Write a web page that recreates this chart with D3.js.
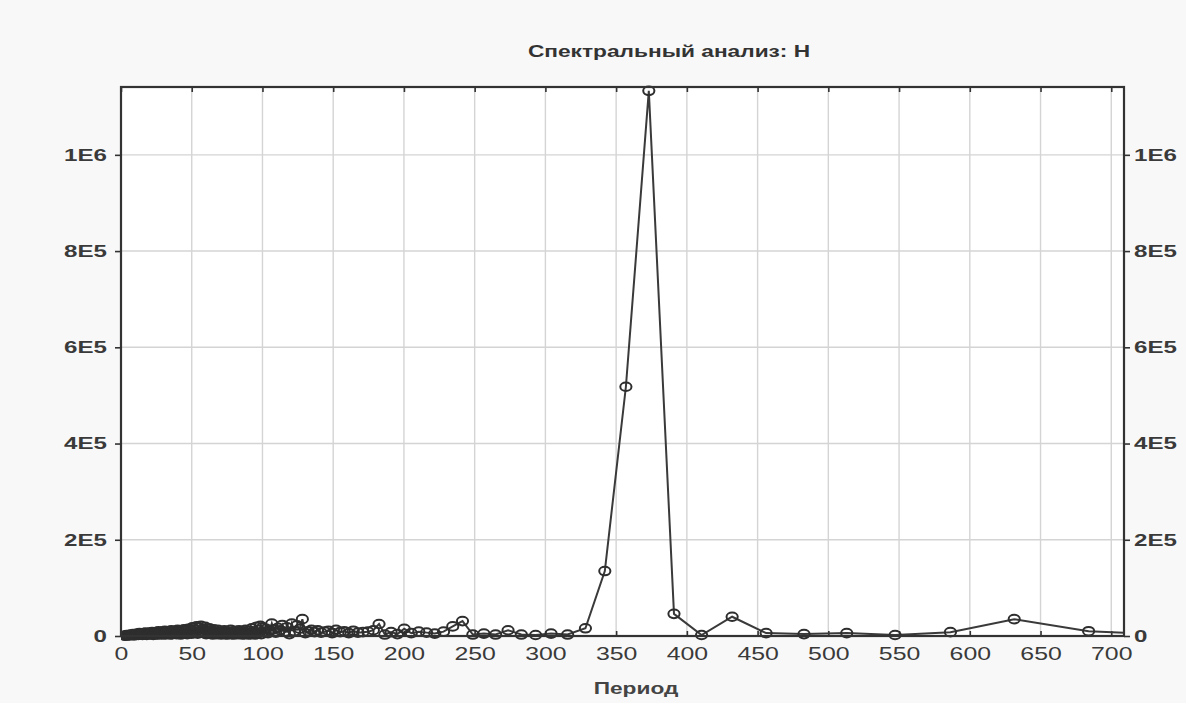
<!DOCTYPE html>
<html><head><meta charset="utf-8">
<script src="https://cdn.jsdelivr.net/npm/d3@7"></script>
<style>
html,body{margin:0;padding:0;background:#f8f8f8;}
svg{display:block;}
text{font-family:"Liberation Sans",Arial,sans-serif;}
</style></head>
<body>
<svg id="chart" width="1186" height="703"></svg>
<script>
// ---- data ----
const periods = [
  2.5,4,5.5,7,8.5,10,11.5,13,14.5,16,17.5,19,20.5,22,23.5,25,26.5,28,29.5,31,
  32.5,34,35.5,37,38.5,40,41.5,43,44.5,46,47.5,49,50.5,52,53.5,55,56.5,58,59.5,61,
  62.5,64,65.5,67,68.5,70,71.5,73,74.5,76,77.5,79,80.5,82,83.5,85,86.5,88,89.5,91,
  92.5,94,95.5,97,98.5,
  3.2,4.8,6.2,7.8,9.2,10.8,12.2,13.8,15.2,16.8,18.2,19.8,21.2,22.8,24.2,25.8,27.2,28.8,30.2,31.8,
  33.2,34.8,36.2,37.8,39.2,40.8,42.2,43.8,45.2,46.8,48.2,49.8,51.2,52.8,54.2,55.8,57.2,58.8,60.2,61.8,
  63.2,64.8,66.2,67.8,69.2,70.8,72.2,73.8,75.2,76.8,78.2,79.8,81.2,82.8,84.2,85.8,87.2,88.8,90.2,91.8,
  93.2,94.8,96.2,97.8,99.2,
  100.1,101.3,102.6,103.9,105.2,106.6,108,109.4,110.9,112.4,114,115.6,117.3,119,120.7,
  122.5,124.4,126.3,128.2,130.3,132.4,134.6,136.8,139.1,141.5,144,146.6,149.3,152,154.9,
  157.8,161,164.2,167.5,171,174.6,178.4,182.4,186.5,190.9,195.4,200.2,205.2,210.5,216,
  221.8,228,234.5,241.4,248.7,256.5,264.8,273.6,283,293.1,304,315.7,328.3,342,356.9,
  373.1,390.9,410.4,432,456,482.8,513,547.2,586.3,631.4,684,746.2
];
const power = [
  1000,2000,2000,3000,4000,3000,5000,6000,4000,6000,7000,5000,7000,8000,6000,8000,10000,7000,9000,11000,
  8000,10000,12000,9000,11000,13000,10000,12000,14000,11000,15000,13000,18000,14000,20000,17000,21000,15000,19000,12000,
  16000,11000,14000,9000,13000,6000,10000,12000,8000,9000,13000,7000,11000,9000,12000,6000,10000,13000,7000,11000,
  16000,8000,19000,13000,21000,
  500,1000,1000,2000,1000,2000,2000,3000,2000,3000,2000,3000,4000,2000,3000,4000,3000,5000,3000,4000,
  5000,3000,4000,6000,4000,5000,3000,6000,5000,4000,7000,5000,6000,8000,5000,7000,9000,6000,4000,7000,
  5000,3000,6000,4000,5000,3000,6000,4000,3000,5000,4000,3000,5000,4000,6000,3000,4000,5000,3000,4000,
  6000,3000,5000,7000,4000,
  18000,9000,15000,6000,11000,26000,14000,7000,17000,12000,23000,9000,18000,4000,26000,
  10000,22000,15000,35000,6000,10000,13000,8000,12000,7000,9000,11000,6000,13000,8000,
  10000,6000,11000,7000,8000,9000,12000,25000,3000,8000,4000,15000,6000,9000,7000,
  5000,9000,20000,31000,3000,5000,3000,12000,3000,2000,5000,3000,16000,135000,518000,
  1133000,46000,2000,40000,6000,4000,6000,2000,8000,35000,10000,2000
];
const xTicks = [0,50,100,150,200,250,300,350,400,450,500,550,600,650,700];
const yTicks = [0,200000,400000,600000,800000,1000000];
const yTickLabels = ["0","2E5","4E5","6E5","8E5","1E6"];
const titleText = "Спектральный анализ: H";
const xLabelText = "Период";

// ---- layout ----
const svg = d3.select("#chart");
const L = 121, R = 1124, T = 87, B = 636;
const SX = 1.42; // horizontal stretch of the source image text
const x = d3.scaleLinear().domain([0, 709]).range([L, R]);
const y = d3.scaleLinear().domain([0, 1141000]).range([B, T]);

svg.append("rect").attr("x",L).attr("y",T).attr("width",R-L).attr("height",B-T).attr("fill","#ffffff");

// grid
const grid = svg.append("g").attr("stroke","#d4d4d4").attr("stroke-width",1.4);
grid.selectAll("line.vx").data(xTicks.slice(1)).join("line")
  .attr("x1",d=>x(d)).attr("x2",d=>x(d)).attr("y1",T).attr("y2",B);
grid.selectAll("line.hy").data(yTicks.slice(1)).join("line")
  .attr("x1",L).attr("x2",R).attr("y1",d=>y(d)).attr("y2",d=>y(d));

function styleAxis(g){
  g.select(".domain").remove();
  g.selectAll(".tick line").attr("stroke","#333").attr("stroke-width",1.6);
  g.selectAll(".tick text").attr("fill","#3a3a3a").attr("font-size",17).attr("font-weight","bold");
}
// bottom axis
const gx = svg.append("g").attr("transform",`translate(0,${B})`)
  .call(d3.axisBottom(x).tickValues(xTicks).tickFormat(d3.format("d")).tickSizeInner(-5).tickSizeOuter(0).tickPadding(12));
styleAxis(gx);
gx.selectAll(".tick text").attr("font-weight","normal").attr("font-size",17.5).attr("transform",`scale(${SX},1)`);
// top ticks
const gt = svg.append("g").attr("transform",`translate(0,${T})`)
  .call(d3.axisTop(x).tickValues(xTicks).tickFormat("").tickSizeInner(-5).tickSizeOuter(0));
styleAxis(gt);
// left axis
const gy = svg.append("g").attr("transform",`translate(${L},0)`)
  .call(d3.axisLeft(y).tickValues(yTicks).tickFormat((d,i)=>yTickLabels[i]).tickSizeInner(6).tickSizeOuter(0).tickPadding(8));
styleAxis(gy);
gy.selectAll(".tick text").attr("x",-14/SX).attr("transform",`scale(${SX},1)`);
// right axis
const gr = svg.append("g").attr("transform",`translate(${R},0)`)
  .call(d3.axisRight(y).tickValues(yTicks).tickFormat((d,i)=>yTickLabels[i]).tickSizeInner(6).tickSizeOuter(0).tickPadding(8));
styleAxis(gr);
gr.selectAll(".tick text").attr("x",10/SX).attr("transform",`scale(${SX},1)`);

// data
const data = periods.map((p,i)=>({p, v: power[i]})).sort((a,b)=>a.p-b.p);
svg.append("clipPath").attr("id","clip").append("rect")
  .attr("x",L).attr("y",T-6).attr("width",R-L).attr("height",B-T+12);
const plot = svg.append("g").attr("clip-path","url(#clip)");
plot.append("path").datum(data)
  .attr("d", d3.line().x(d=>x(d.p)).y(d=>y(d.v)))
  .attr("fill","none").attr("stroke","#3a3a3a").attr("stroke-width",2);
plot.selectAll("ellipse").data(data).join("ellipse")
  .attr("cx",d=>x(d.p)).attr("cy",d=>y(d.v))
  .attr("rx",5.6).attr("ry",4.3)
  .attr("fill","none").attr("stroke","#2e2e2e").attr("stroke-width",2);

// frame
svg.append("rect").attr("x",L).attr("y",T).attr("width",R-L).attr("height",B-T)
  .attr("fill","none").attr("stroke","#333").attr("stroke-width",2.2);

// title & axis label
svg.append("text").attr("transform",`translate(669,57) scale(${SX},1)`)
  .attr("text-anchor","middle").attr("font-size",16).attr("font-weight","bold").attr("fill","#333")
  .text(titleText);
svg.append("text").attr("transform",`translate(636,694) scale(${SX},1)`)
  .attr("text-anchor","middle").attr("font-size",16).attr("font-weight","bold").attr("fill","#444")
  .text(xLabelText);
</script>
</body></html>
